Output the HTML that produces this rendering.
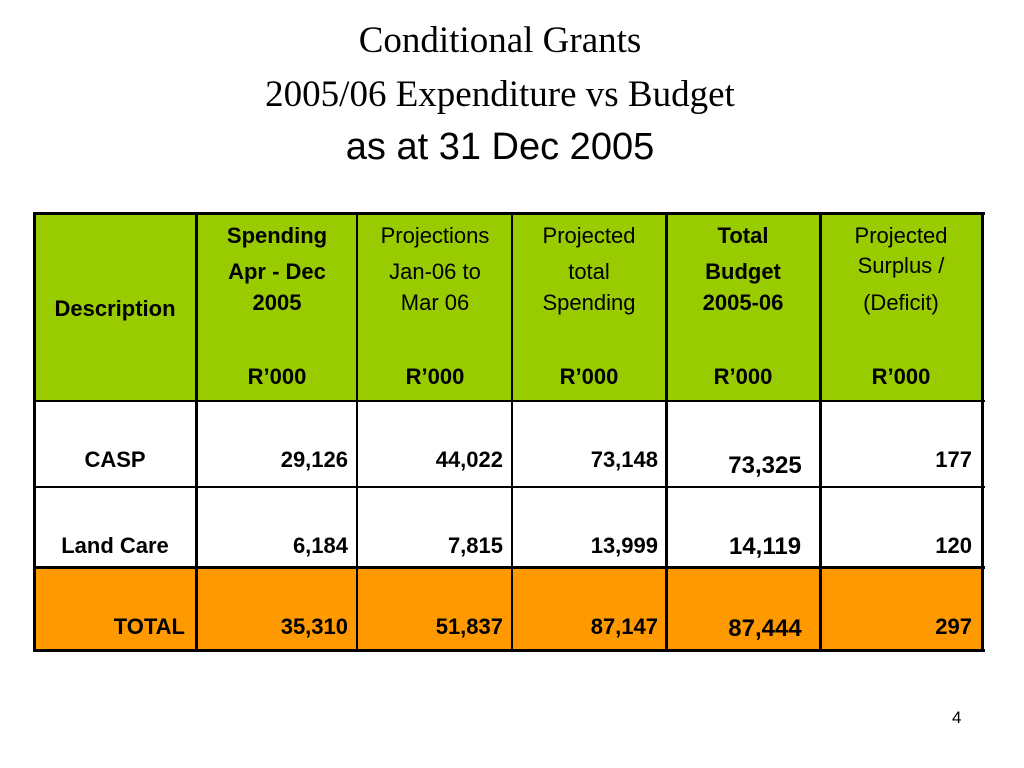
<!DOCTYPE html>
<html><head><meta charset="utf-8"><style>
body{margin:0;width:1024px;height:768px;background:#fff;position:relative;overflow:hidden;font-family:"Liberation Sans",sans-serif}
.a{position:absolute;white-space:nowrap;line-height:1}
.t{font-family:"Liberation Serif",serif;font-size:37px;left:0;width:1000px;text-align:center}
.c{text-align:center;font-size:22px;transform:translateX(-50%)}
.b{font-weight:bold}
.r{text-align:right;font-size:22px;font-weight:bold}
.cell{position:absolute;box-sizing:border-box}
.vl{position:absolute;width:3px;background:#000}
.hl{position:absolute;height:3px;background:#000}
</style></head><body>
<div class="a t" style="top:22px">Conditional Grants</div>
<div class="a t" style="top:76px">2005/06 Expenditure vs Budget</div>
<div class="a t" style="top:128px;font-family:'Liberation Sans',sans-serif;font-size:38px">as at 31 Dec 2005</div>

<div>
<div class="cell" style="left:33px;top:213px;width:950px;height:188px;background:#99cc00"></div>
<div class="cell" style="left:33px;top:568px;width:950px;height:83px;background:#ff9900"></div>
<div class="hl" style="left:33px;top:212px;width:952px"></div>
<div class="hl" style="left:33px;top:400px;width:952px;height:2px"></div>
<div class="hl" style="left:33px;top:486px;width:952px;height:2px"></div>
<div class="hl" style="left:33px;top:566px;width:952px"></div>
<div class="hl" style="left:33px;top:649px;width:952px"></div>
<div class="vl" style="left:33px;top:212px;height:440px"></div>
<div class="vl" style="left:195px;top:212px;height:440px"></div>
<div class="vl" style="left:356px;top:212px;height:440px;width:2px"></div>
<div class="vl" style="left:511px;top:212px;height:440px;width:2px"></div>
<div class="vl" style="left:665px;top:212px;height:440px"></div>
<div class="vl" style="left:819px;top:212px;height:440px"></div>
<div class="vl" style="left:981px;top:212px;height:440px"></div>

<div class="a c b" style="left:115px;top:298px">Description</div>
<div class="a c b" style="left:277px;top:225px">Spending</div>
<div class="a c b" style="left:277px;top:261px">Apr - Dec</div>
<div class="a c b" style="left:277px;top:292px">2005</div>
<div class="a c b" style="left:277px;top:366px">R’000</div>
<div class="a c" style="left:435px;top:225px">Projections</div>
<div class="a c" style="left:435px;top:261px">Jan-06 to</div>
<div class="a c" style="left:435px;top:292px">Mar 06</div>
<div class="a c b" style="left:435px;top:366px">R’000</div>
<div class="a c" style="left:589px;top:225px">Projected</div>
<div class="a c" style="left:589px;top:261px">total</div>
<div class="a c" style="left:589px;top:292px">Spending</div>
<div class="a c b" style="left:589px;top:366px">R’000</div>
<div class="a c b" style="left:743px;top:225px">Total</div>
<div class="a c b" style="left:743px;top:261px">Budget</div>
<div class="a c b" style="left:743px;top:292px">2005-06</div>
<div class="a c b" style="left:743px;top:366px">R’000</div>
<div class="a c" style="left:901px;top:225px">Projected</div>
<div class="a c" style="left:901px;top:255px">Surplus /</div>
<div class="a c" style="left:901px;top:292px">(Deficit)</div>
<div class="a c b" style="left:901px;top:366px">R’000</div>

<div class="a c b" style="left:115px;top:449px">CASP</div>
<div class="a r" style="left:196px;width:152px;top:449px">29,126</div>
<div class="a r" style="left:357px;width:146px;top:449px">44,022</div>
<div class="a r" style="left:512px;width:146px;top:449px">73,148</div>
<div class="a c b" style="left:765px;top:454px;font-size:24px">73,325</div>
<div class="a r" style="left:820px;width:152px;top:449px">177</div>

<div class="a c b" style="left:115px;top:535px">Land Care</div>
<div class="a r" style="left:196px;width:152px;top:535px">6,184</div>
<div class="a r" style="left:357px;width:146px;top:535px">7,815</div>
<div class="a r" style="left:512px;width:146px;top:535px">13,999</div>
<div class="a c b" style="left:765px;top:535px;font-size:24px">14,119</div>
<div class="a r" style="left:820px;width:152px;top:535px">120</div>

<div class="a r" style="left:33px;width:152px;top:616px">TOTAL</div>
<div class="a r" style="left:196px;width:152px;top:616px">35,310</div>
<div class="a r" style="left:357px;width:146px;top:616px">51,837</div>
<div class="a r" style="left:512px;width:146px;top:616px">87,147</div>
<div class="a c b" style="left:765px;top:617px;font-size:24px">87,444</div>
<div class="a r" style="left:820px;width:152px;top:616px">297</div>
</div>

<div class="a" style="left:952px;top:709px;font-size:17px">4</div>
</body></html>
